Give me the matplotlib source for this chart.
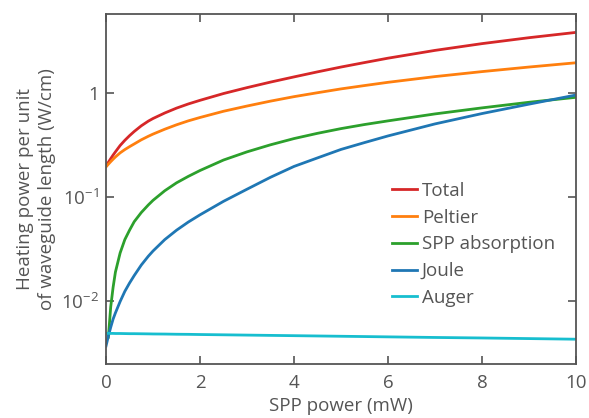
import numpy as np
import matplotlib
matplotlib.use("Agg")
import matplotlib.pyplot as plt

# Data
power_mw = [0, 0.05, 0.1, 0.15, 0.2, 0.3, 0.4, 0.5, 0.6, 0.75, 0.9, 1, 1.25, 1.5, 1.75, 2,
            2.5, 3, 3.5, 4, 4.5, 5, 5.5, 6, 7, 8, 9, 10]
total = [0.198, 0.216, 0.234, 0.253, 0.272, 0.313, 0.351, 0.389, 0.427, 0.484, 0.537, 0.569,
         0.643, 0.716, 0.785, 0.851, 0.989, 1.127, 1.274, 1.429, 1.598, 1.778, 1.963, 2.163,
         2.570, 2.985, 3.404, 3.828]
peltier = [0.195, 0.207, 0.219, 0.231, 0.243, 0.266, 0.286, 0.305, 0.324, 0.355, 0.384, 0.403,
           0.449, 0.495, 0.540, 0.582, 0.668, 0.750, 0.836, 0.923, 1.007, 1.096, 1.180, 1.268,
           1.439, 1.607, 1.778, 1.954]
spp_absorption = [np.nan, 0.0045, 0.0088, 0.0135, 0.019, 0.029, 0.039, 0.048, 0.058, 0.071,
                  0.084, 0.093, 0.115, 0.137, 0.158, 0.18, 0.227, 0.272, 0.318, 0.365, 0.41,
                  0.455, 0.498, 0.54, 0.63, 0.72, 0.815, 0.91]
joule = [0.0037, 0.0046, 0.0056, 0.0067, 0.0077, 0.0099, 0.0124, 0.0149, 0.0176, 0.0222,
         0.0270, 0.0303, 0.039, 0.048, 0.0575, 0.0675, 0.091, 0.119, 0.155, 0.197, 0.238,
         0.287, 0.334, 0.387, 0.505, 0.635, 0.782, 0.957]
auger = [0.00490, 0.00490, 0.00489, 0.00489, 0.00488, 0.00488, 0.00487, 0.00486, 0.00486,
         0.00485, 0.00484, 0.00483, 0.00482, 0.00480, 0.00479, 0.00477, 0.00474, 0.00471,
         0.00468, 0.00465, 0.00462, 0.00459, 0.00456, 0.00453, 0.00447, 0.00442, 0.00436,
         0.00430]

series_names = ["Total", "Peltier", "SPP absorption", "Joule", "Auger"]
series_colors = ["#d62728", "#ff7f0e", "#2ca02c", "#1f77b4", "#17becf"]
x_ticks = [0, 2, 4, 6, 8, 10]
y_ticks = [0.01, 0.1, 1]
y_tick_labels = [r"$10^{-2}$", r"$10^{-1}$", "1"]

plt.rcParams['font.family'] = ['Open Sans', 'DejaVu Sans']
plt.rcParams['mathtext.fontset'] = 'custom'
plt.rcParams['mathtext.rm'] = 'Open Sans'
plt.rcParams['mathtext.it'] = 'Open Sans:italic'
plt.rcParams['mathtext.bf'] = 'Open Sans:bold'

text_color = "#555555"
fs = 13.5
fig = plt.figure(figsize=(5.89, 4.18), dpi=100)
ax = fig.add_axes([0.18, 0.129, 0.798, 0.8375])

for vals, name, col in zip([total, peltier, spp_absorption, joule, auger], series_names, series_colors):
    ax.plot(power_mw, vals, color=col, lw=2.0, label=name)

ax.set_yscale("log")
ax.set_xlim(0, 10)
ax.set_ylim(0.00248, 5.75)
ax.set_xticks(x_ticks)
ax.set_xticklabels([str(t) for t in x_ticks])
ax.set_yticks(y_ticks)
ax.set_yticklabels(y_tick_labels)
ax.yaxis.set_minor_locator(matplotlib.ticker.NullLocator())
ax.tick_params(axis="both", which="major", direction="in", length=6, width=1.2,
               color=text_color, labelcolor=text_color, labelsize=fs,
               top=True, right=True, pad=5)
ax.tick_params(axis="x", pad=7)
for sp in ax.spines.values():
    sp.set_color(text_color)
    sp.set_linewidth(1.3)

ax.set_xlabel("SPP power (mW)", fontsize=fs, color=text_color, labelpad=4)
ax.set_ylabel("Heating power per unit\nof waveguide length (W/cm)", fontsize=fs,
              color=text_color, labelpad=4, linespacing=1.25)

leg = ax.legend(loc="center left", bbox_to_anchor=(0.572, 0.342), frameon=False,
                fontsize=fs, handlelength=1.33, handletextpad=0.27, labelspacing=0.47)
for t in leg.get_texts():
    t.set_color(text_color)

fig.savefig("out.png", dpi=100)
